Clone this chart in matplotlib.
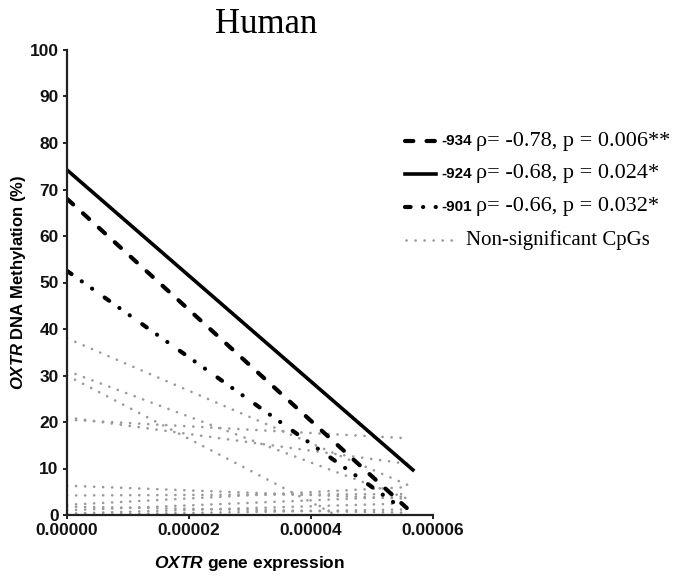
import matplotlib
matplotlib.use("Agg")
import matplotlib.pyplot as plt
from matplotlib.lines import Line2D
from matplotlib.offsetbox import DrawingArea, TextArea, HPacker, VPacker, AnchoredOffsetbox

plt.rcParams['font.family'] = 'Liberation Sans'
plt.rcParams['mathtext.fontset'] = 'custom'
plt.rcParams['mathtext.rm'] = 'Liberation Sans'
plt.rcParams['mathtext.it'] = 'Liberation Sans:italic'
plt.rcParams['mathtext.bf'] = 'Liberation Sans:bold'
plt.rcParams['mathtext.bfit'] = 'Liberation Sans:italic:bold'
plt.rcParams['lines.scale_dashes'] = False

# significant CpGs (regression lines), OXTR expression from 0 to the end value
sig_names = ["-934", "-924", "-901"]
sig_stats = ["\u03c1= -0.78, p = 0.006**", "\u03c1= -0.68, p = 0.024*", "\u03c1= -0.66, p = 0.032*"]
sig_x_end = [0.0000557, 0.0000567, 0.0000555]
sig_y_start = [68.0, 74.2, 52.5]
sig_y_end = [1.5, 9.7, 0.9]

# non-significant CpGs
ns_x_end = 0.0000558
ns_y_start = [38.0, 31.0, 30.0, 20.5, 21.0, 6.3, 4.2, 2.2, 1.0, 0.3, 1.8, 0.0]
ns_y_end = [6.5, 3.5, -8.0, 16.5, 11.0, 3.5, 4.5, 6.0, 4.0, 2.5, 0.5, 1.2]

xticks = [0.0, 0.00002, 0.00004, 0.00006]
xtick_labels = ["0.00000", "0.00002", "0.00004", "0.00006"]
yticks = list(range(0, 101, 10))

gray = "#9a9a9a"
sig_styles = [
    dict(color="black", lw=3.0, linestyle=(0, (6, 9.5)), solid_capstyle="round", dash_capstyle="round"),
    dict(color="black", lw=2.6, linestyle="-"),
    dict(color="black", lw=3.0, linestyle=(0, (4, 9, 0.1, 9, 0.1, 11)), dash_capstyle="round"),
]
ns_style = dict(color=gray, lw=1.9, linestyle=(0, (0.1, 6.4)), dash_capstyle="round")

fig = plt.figure(figsize=(6.8, 5.76), dpi=100)
ax = fig.add_axes([67/680, 1-515/576, 366/680, 465/576])

for y0, y1 in zip(ns_y_start, ns_y_end):
    ax.plot([0, ns_x_end], [y0, y1], **ns_style)
for i in range(3):
    ax.plot([0, sig_x_end[i]], [sig_y_start[i], sig_y_end[i]], **sig_styles[i])

ax.set_xlim(0, 0.00006)
ax.set_ylim(0, 100)
ax.set_xticks(xticks)
ax.set_xticklabels(xtick_labels)
ax.set_yticks(yticks)
for s in ["top", "right"]:
    ax.spines[s].set_visible(False)
for s in ["left", "bottom"]:
    ax.spines[s].set_linewidth(1.6)
    ax.spines[s].set_color("#222222")
ax.tick_params(direction="out", length=3, width=1.4, colors="#222222", pad=3)
for lab in ax.get_xticklabels() + ax.get_yticklabels():
    lab.set_fontweight("bold")
    lab.set_fontsize(12.5)
    lab.set_color("#111111")

ax.set_xlabel(r"$\bfit{OXTR}$ gene expression", fontsize=12.5, fontweight="bold", labelpad=11)
ax.set_ylabel(r"$\bfit{OXTR}$ DNA Methylation (%)", fontsize=12, fontweight="bold", labelpad=1)
ax.set_title("Human", family="Liberation Serif", fontsize=25, x=(266-67)/366, pad=12)

# legend built from the same styles
rows = []
for i in [0, 1, 2]:
    da = DrawingArea(24, 10)
    st = dict(sig_styles[i])
    da.add_artist(Line2D([1, 23], [5, 5], **st))
    t1 = TextArea(sig_names[i], textprops=dict(fontsize=11, fontweight="bold", family="Liberation Sans"))
    t2 = TextArea(sig_stats[i], textprops=dict(fontsize=16, family="Liberation Serif"))
    rows.append(HPacker(children=[da, t1, t2], align="center", pad=0, sep=3))
da = DrawingArea(40, 10)
da.add_artist(Line2D([2, 38], [5, 5], **ns_style))
t2 = TextArea("Non-significant CpGs", textprops=dict(fontsize=15, family="Liberation Serif"))
rows.append(HPacker(children=[da, t2], align="center", pad=0, sep=5))
box = VPacker(children=rows, align="left", pad=0, sep=10)
ab = AnchoredOffsetbox(loc="upper left", child=box, frameon=False,
                       bbox_to_anchor=(398/680, 1-126/576), bbox_transform=fig.transFigure, borderpad=0)
fig.add_artist(ab)

fig.savefig("out.png", dpi=100)
